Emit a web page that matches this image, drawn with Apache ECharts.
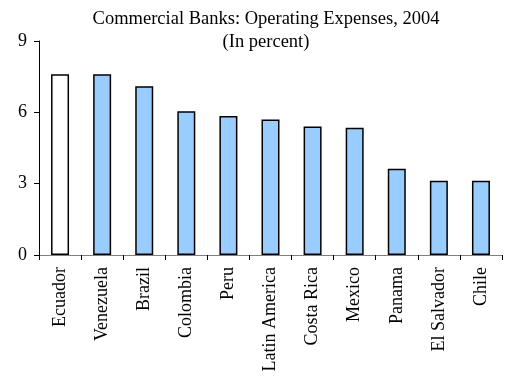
<!DOCTYPE html>
<html>
<head>
<meta charset="utf-8">
<style>
  html, body { margin: 0; padding: 0; background: #fff; }
  #chart { width: 505px; height: 381px; }
</style>
<script src="https://cdn.jsdelivr.net/npm/echarts@6/dist/echarts.min.js"></script>
</head>
<body>
<div id="chart"></div>
<script>
// Operating expenses of commercial banks, 2004, in percent
const countries = ['Ecuador', 'Venezuela', 'Brazil', 'Colombia', 'Peru', 'Latin America',
  'Costa Rica', 'Mexico', 'Panama', 'El Salvador', 'Chile'];
const expenses = [7.6, 7.6, 7.1, 6.05, 5.85, 5.7, 5.4, 5.35, 3.63, 3.12, 3.12];
const highlighted = 'Ecuador';
const yTicks = { min: 0, max: 9, interval: 3 };

const serif = '"Liberation Serif", "DejaVu Serif", serif';

const chart = echarts.init(document.getElementById('chart'), null, { renderer: 'canvas' });

chart.setOption({
  animation: false,
  backgroundColor: '#ffffff',
  title: {
    text: 'Commercial Banks: Operating Expenses, 2004',
    subtext: '(In percent)',
    left: 261,
    textAlign: 'center',
    top: 5,
    itemGap: 4,
    textStyle: { fontFamily: serif, fontSize: 18.5, fontWeight: 'normal', color: '#000' },
    subtextStyle: { fontFamily: serif, fontSize: 18.5, color: '#000' }
  },
  grid: { left: 39, right: 3, top: 41, bottom: 126, containLabel: false },
  xAxis: {
    type: 'category',
    data: countries,
    boundaryGap: true,
    axisLine: { show: true, lineStyle: { color: '#808080', width: 1 } },
    axisTick: { show: true, inside: false, length: 5, alignWithLabel: false,
      lineStyle: { color: '#000', width: 1 } },
    axisLabel: {
      rotate: 90,
      interval: 0,
      margin: 12,
      fontFamily: serif,
      fontSize: 18,
      color: '#000'
    },
    splitLine: { show: false }
  },
  yAxis: {
    type: 'value',
    min: yTicks.min,
    max: yTicks.max,
    interval: yTicks.interval,
    axisLine: { show: true, lineStyle: { color: '#000', width: 1 } },
    axisTick: { show: true, inside: false, length: 5, lineStyle: { color: '#000', width: 1 } },
    axisLabel: { margin: 12, fontFamily: serif, fontSize: 18, color: '#000' },
    splitLine: { show: false }
  },
  series: [{
    type: 'bar',
    barWidth: 18,
    data: expenses.map((v, i) => ({
      value: v,
      itemStyle: {
        color: countries[i] === highlighted ? '#ffffff' : '#99ccff',
        borderColor: '#000',
        borderWidth: 1.5
      }
    }))
  }]
});
</script>
</body>
</html>
